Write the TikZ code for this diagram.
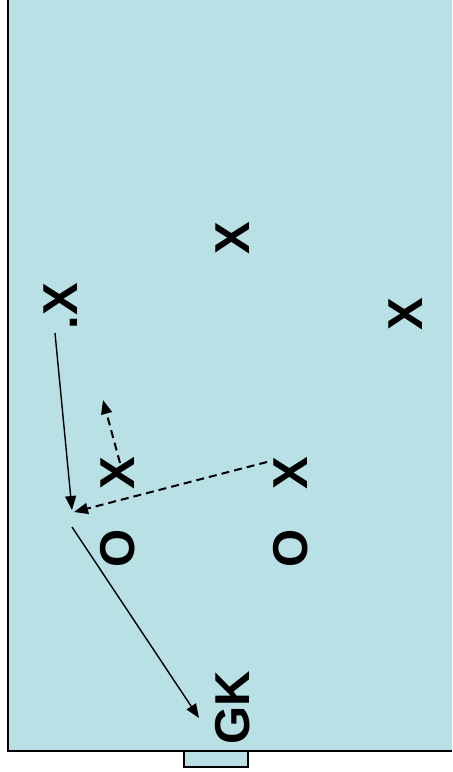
\documentclass[tikz,border=0pt]{standalone}
\usepackage{fontspec}
\setmainfont{Liberation Sans}
\usetikzlibrary{arrows.meta}
\definecolor{fieldblue}{RGB}{185,224,228}
\tikzset{
  >={Triangle[length=7pt,width=5.5pt]},
  pitch/.style={fill=fieldblue},
  pline/.style={line width=1pt,black},
  goalbox/.style={fill=fieldblue,draw=black,line width=0.8pt},
  player/.style={rotate=90,inner sep=0pt,text height=17.5pt,text depth=0pt,
    font=\bfseries\fontsize{24.5}{29}\selectfont},
  run/.style={->,line width=0.7pt},
  pass/.style={->,line width=1pt,dash pattern=on 4pt off 2.5pt},
}
\begin{document}
\begin{tikzpicture}[x=0.5pt,y=-0.5pt]
  \useasboundingbox (0,0) rectangle (452,772);
  % pitch and goal
  \fill[pitch] (8,0) rectangle (452,751);
  \draw[pline] (8,0) -- (8,751) -- (452,751);
  \draw[goalbox] (184,751) rectangle (248,767);
  % players
  \node[player] (xtop) at (232,238) {X};
  \node[player] (xright) at (405,314) {X};
  \node[player] (xwing) at (60,306) {.X};
  \node[player] (xleft) at (117,473) {X};
  \node[player] (xmid) at (290,473) {X};
  \node[player] (oleft) at (117,548) {O};
  \node[player] (omid) at (290,548) {O};
  \node[player] (gk) at (232,708) {GK};
  % runs and passes
  \coordinate (wingstart) at (55,333);
  \coordinate (meet) at (72,510);
  \coordinate (meetpass) at (74,512);
  \coordinate (midstart) at (267,462);
  \coordinate (leftstart) at (120,463);
  \coordinate (leftend) at (103,400);
  \coordinate (shotstart) at (72,527);
  \coordinate (shotend) at (199,718);
  \draw[run] (wingstart) -- (meet);
  \draw[pass] (midstart) -- (meetpass);
  \draw[pass] (leftstart) -- (leftend);
  \draw[run] (shotstart) -- (shotend);
\end{tikzpicture}
\end{document}
